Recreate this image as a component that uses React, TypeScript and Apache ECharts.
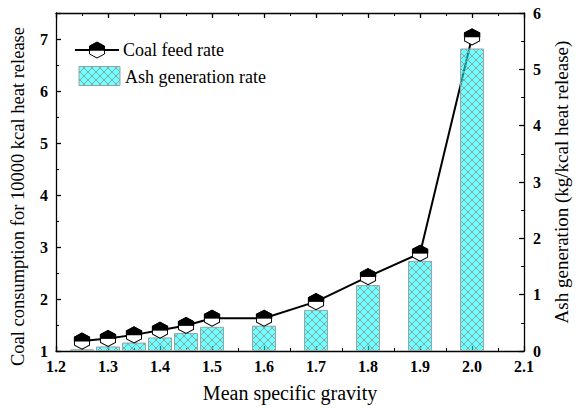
import React, { useEffect, useRef } from 'react';
import * as echarts from 'echarts';

const gravity = [1.25, 1.3, 1.35, 1.4, 1.45, 1.5, 1.6, 1.7, 1.8, 1.9, 2.0];
const coalFeedRate = [1.19, 1.24, 1.31, 1.4, 1.49, 1.63, 1.63, 1.95, 2.43, 2.88, 7.04];
const ashGenerationRate = [0.03, 0.08, 0.15, 0.24, 0.32, 0.43, 0.45, 0.73, 1.17, 1.6, 5.37];

const xMin = 1.2;
const xMax = 2.1;
const xStep = 0.1;
const leftMin = 1;
const leftMax = 7.5;
const rightMin = 0;
const rightMax = 6;

const seriesNames = ['Coal feed rate', 'Ash generation rate'];
const xName = 'Mean specific gravity';
const leftName = 'Coal consumption for 10000 kcal heat release';
const rightName = 'Ash generation (kg/kcal heat release)';

const FONT = 'Liberation Serif';

const HEX = 'path://M7.5,0 L15,4 L15,12 L7.5,16 L0,12 L0,4 Z';
const HEX_TOP = 'path://M7.5,0 L15,4 L15,8 L0,8 L0,4 Z';

function makePattern() {
  const size = 8;
  const c = document.createElement('canvas');
  c.width = size;
  c.height = size;
  const ctx = c.getContext('2d')!;
  ctx.fillStyle = 'rgba(0,255,255,0.56)';
  ctx.fillRect(0, 0, size, size);
  ctx.strokeStyle = '#86a6a6';
  ctx.lineWidth = 1;
  ctx.beginPath();
  ctx.moveTo(-1, -1);
  ctx.lineTo(size + 1, size + 1);
  ctx.moveTo(size + 1, -1);
  ctx.lineTo(-1, size + 1);
  ctx.stroke();
  return { image: c, repeat: 'repeat', imageWidth: size, imageHeight: size } as any;
}

export default function App() {
  const ref = useRef<HTMLDivElement>(null);

  useEffect(() => {
    document.body.style.margin = '0';
    const chart = echarts.init(ref.current!, undefined, { renderer: 'svg' });
    const pattern = makePattern();

    const axisLineStyle = { color: '#000', width: 1.3 };
    const tickLabel = { color: '#000', fontFamily: FONT, fontWeight: 'bold' as const, fontSize: 16 };
    const nameStyle = { color: '#000', fontFamily: FONT, fontSize: 18.5 };

    const pts = (ys: number[]) => gravity.map((g, i) => [g, ys[i]]);

    const option: any = {
      animation: false,
      backgroundColor: '#fff',
      textStyle: { fontFamily: FONT },
      grid: { left: 51, right: 43, top: 13, bottom: 54, containLabel: false },
      xAxis: [
        {
          type: 'value',
          min: xMin,
          max: xMax,
          interval: xStep,
          name: xName,
          nameLocation: 'middle',
          nameGap: 32,
          nameTextStyle: { ...nameStyle, fontSize: 20 },
          axisLine: { show: true, lineStyle: axisLineStyle },
          axisTick: { show: true, inside: true, length: 5, lineStyle: axisLineStyle },
          minorTick: { show: true, splitNumber: 2, length: 3, lineStyle: { color: '#000', width: 1 } },
          axisLabel: { ...tickLabel, margin: 7, formatter: (v: number) => v.toFixed(1) },
          splitLine: { show: false },
        },
        {
          type: 'value',
          position: 'top',
          min: xMin,
          max: xMax,
          interval: xStep,
          axisLine: { show: true, lineStyle: axisLineStyle },
          axisTick: { show: true, inside: true, length: 5, lineStyle: axisLineStyle },
          minorTick: { show: true, splitNumber: 2, length: 3, lineStyle: { color: '#000', width: 1 } },
          axisLabel: { show: false },
          splitLine: { show: false },
        },
      ],
      yAxis: [
        {
          type: 'value',
          position: 'left',
          min: leftMin,
          max: leftMax,
          interval: 1,
          name: leftName,
          nameLocation: 'middle',
          nameGap: 29,
          nameTextStyle: { ...nameStyle, padding: [0, 29, 0, 0] },
          axisLine: { show: true, lineStyle: axisLineStyle },
          axisTick: { show: true, inside: true, length: 5, lineStyle: axisLineStyle },
          minorTick: { show: true, splitNumber: 2, length: 3, lineStyle: { color: '#000', width: 1 } },
          axisLabel: {
            ...tickLabel,
            margin: 8,
            formatter: (v: number) => (Number.isInteger(v) ? String(v) : ''),
          },
          splitLine: { show: false },
        },
        {
          type: 'value',
          position: 'right',
          min: rightMin,
          max: rightMax,
          interval: 1,
          name: rightName,
          nameLocation: 'middle',
          nameGap: 25,
          nameTextStyle: { ...nameStyle, fontSize: 19 },
          axisLine: { show: true, lineStyle: axisLineStyle },
          axisTick: { show: true, inside: true, length: 5, lineStyle: axisLineStyle },
          minorTick: { show: true, splitNumber: 2, length: 3, lineStyle: { color: '#000', width: 1 } },
          axisLabel: { ...tickLabel, margin: 9 },
          splitLine: { show: false },
        },
      ],
      series: [
        {
          name: seriesNames[0],
          type: 'line',
          xAxisIndex: 0,
          yAxisIndex: 0,
          data: pts(coalFeedRate),
          showSymbol: false,
          symbol: 'none',
          lineStyle: { color: '#000', width: 2 },
          z: 1,
        },
        {
          name: seriesNames[1],
          type: 'bar',
          xAxisIndex: 0,
          yAxisIndex: 1,
          data: pts(ashGenerationRate),
          barWidth: 24,
          itemStyle: { color: pattern, borderColor: '#94a4a4', borderWidth: 1 },
          z: 2,
        },
        {
          name: seriesNames[0] + ' marker',
          type: 'scatter',
          xAxisIndex: 0,
          yAxisIndex: 0,
          data: pts(coalFeedRate),
          symbol: HEX,
          symbolSize: [15, 16],
          itemStyle: { color: '#fff', borderColor: '#000', borderWidth: 1, opacity: 1 },
          z: 3,
        },
        {
          name: seriesNames[0] + ' marker top',
          type: 'scatter',
          xAxisIndex: 0,
          yAxisIndex: 0,
          data: pts(coalFeedRate),
          symbol: HEX_TOP,
          symbolSize: [15, 8],
          symbolOffset: [0, -4],
          itemStyle: { color: '#000', borderColor: '#000', borderWidth: 1, opacity: 1 },
          z: 4,
        },
      ],
      graphic: [
        { type: 'line', shape: { x1: 75, y1: 50, x2: 119, y2: 50 }, style: { stroke: '#000', lineWidth: 2 }, z: 10 },
        {
          type: 'polygon',
          shape: { points: [[97, 58], [104.5, 54], [104.5, 50], [89.5, 50], [89.5, 54]] },
          style: { fill: '#fff', stroke: '#000', lineWidth: 1 },
          z: 11,
        },
        {
          type: 'polygon',
          shape: { points: [[97, 42], [104.5, 46], [104.5, 50], [89.5, 50], [89.5, 46]] },
          style: { fill: '#000', stroke: '#000', lineWidth: 1 },
          z: 11,
        },
        {
          type: 'text',
          x: 123,
          y: 50,
          style: { text: seriesNames[0], fill: '#000', fontFamily: FONT, fontSize: 18, verticalAlign: 'middle', align: 'left' },
          z: 11,
        },
        {
          type: 'rect',
          shape: { x: 79, y: 66.5, width: 41, height: 19 },
          style: { fill: pattern, stroke: '#94a4a4', lineWidth: 1 },
          z: 10,
        },
        {
          type: 'text',
          x: 125,
          y: 77,
          style: { text: seriesNames[1], fill: '#000', fontFamily: FONT, fontSize: 18, verticalAlign: 'middle', align: 'left' },
          z: 11,
        },
      ],
    };

    chart.setOption(option);
    return () => chart.dispose();
  }, []);

  return <div ref={ref} style={{ width: 579, height: 408 }} />;
}
